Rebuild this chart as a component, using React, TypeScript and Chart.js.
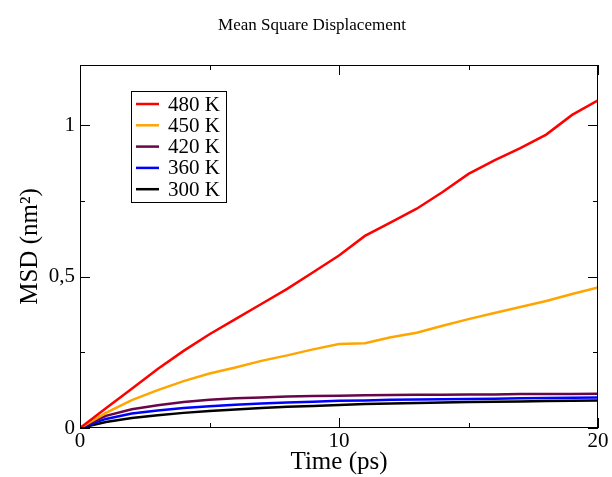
import React, { useEffect, useRef } from "react";
import { Chart, registerables } from "chart.js";

Chart.register(...registerables);

const times = [0, 1, 2, 3, 4, 5, 6, 7, 8, 9, 10, 11, 12, 13, 14, 15, 16, 17, 18, 19, 20];
const msd480 = [0, 0.065, 0.13, 0.195, 0.255, 0.31, 0.36, 0.41, 0.46, 0.515, 0.57, 0.635, 0.68, 0.725, 0.78, 0.84, 0.885, 0.925, 0.97, 1.035, 1.083];
const msd450 = [0, 0.05, 0.092, 0.125, 0.155, 0.18, 0.2, 0.222, 0.24, 0.26, 0.278, 0.28, 0.3, 0.315, 0.338, 0.36, 0.38, 0.4, 0.42, 0.443, 0.465];
const msd420 = [0, 0.04, 0.062, 0.075, 0.086, 0.093, 0.098, 0.101, 0.104, 0.106, 0.107, 0.108, 0.109, 0.11, 0.11, 0.111, 0.111, 0.112, 0.112, 0.112, 0.113];
const msd360 = [0, 0.03, 0.048, 0.058, 0.066, 0.072, 0.077, 0.081, 0.084, 0.087, 0.09, 0.091, 0.093, 0.094, 0.095, 0.096, 0.097, 0.098, 0.099, 0.1, 0.101];
const msd300 = [0, 0.02, 0.033, 0.042, 0.05, 0.056, 0.061, 0.066, 0.07, 0.073, 0.076, 0.079, 0.081, 0.083, 0.084, 0.086, 0.087, 0.088, 0.089, 0.09, 0.091];

const seriesLabels = ["480 K", "450 K", "420 K", "360 K", "300 K"];
const seriesValues = [msd480, msd450, msd420, msd360, msd300];
const seriesColors = ["#ff0000", "#ffa500", "#670748", "#0000ff", "#000000"];

const xTicks = [0, 10, 20];
const xMinorTicks = [5, 15];
const yTicks = [0, 0.5, 1];
const yMinorTicks = [0.25, 0.75];

const chartTitle = "Mean Square Displacement";

const FONT = "'Liberation Serif', 'Times New Roman', serif";

const framePlugin = {
  id: "frameTicks",
  afterDatasetsDraw(chart: any) {
    const { ctx, chartArea: a, scales } = chart;
    const xs = scales.x;
    const ys = scales.y;
    ctx.save();
    ctx.strokeStyle = "#000";
    ctx.lineWidth = 1;
    ctx.strokeRect(a.left + 0.5, a.top + 0.5, a.right - a.left - 1, a.bottom - a.top - 1);
    ctx.beginPath();
    const tickX = (v: number, len: number) => {
      const px = Math.round(xs.getPixelForValue(v)) + 0.5;
      ctx.moveTo(px, a.bottom);
      ctx.lineTo(px, a.bottom - len);
      ctx.moveTo(px, a.top);
      ctx.lineTo(px, a.top + len);
    };
    const tickY = (v: number, len: number) => {
      const py = Math.round(ys.getPixelForValue(v)) + 0.5;
      ctx.moveTo(a.left, py);
      ctx.lineTo(a.left + len, py);
      ctx.moveTo(a.right, py);
      ctx.lineTo(a.right - len, py);
    };
    xTicks.forEach((v) => tickX(v, 10));
    xMinorTicks.forEach((v) => tickX(v, 5));
    yTicks.forEach((v) => tickY(v, 10));
    yMinorTicks.forEach((v) => tickY(v, 5));
    ctx.stroke();

    // title
    ctx.fillStyle = "#000";
    ctx.font = `17px ${FONT}`;
    ctx.textAlign = "center";
    ctx.textBaseline = "alphabetic";
    ctx.fillText(chartTitle, 312, 30);

    // legend box
    const bx = 131, by = 91, bw = 95, bh = 111;
    ctx.fillStyle = "#fff";
    ctx.fillRect(bx, by, bw, bh);
    ctx.strokeRect(bx + 0.5, by + 0.5, bw, bh);
    ctx.font = `21px ${FONT}`;
    ctx.textBaseline = "middle";
    ctx.textAlign = "left";
    chart.data.datasets.forEach((ds: any, i: number) => {
      const cy = 104 + i * 21.3;
      ctx.beginPath();
      ctx.strokeStyle = ds.borderColor;
      ctx.lineWidth = 2.5;
      ctx.moveTo(136, cy);
      ctx.lineTo(159, cy);
      ctx.stroke();
      ctx.fillStyle = "#000";
      ctx.fillText(ds.label, 168, cy + 1);
    });
    ctx.restore();
  },
};

export default function App() {
  const ref = useRef<HTMLCanvasElement>(null);
  useEffect(() => {
    if (!ref.current) return;
    const chart = new Chart(ref.current, {
      type: "line",
      data: {
        datasets: seriesLabels.map((label, i) => ({
          label,
          data: times.map((t, j) => ({ x: t, y: seriesValues[i][j] })),
          borderColor: seriesColors[i],
          backgroundColor: seriesColors[i],
          borderWidth: 2.5,
          pointRadius: 0,
          tension: 0,
          fill: false,
        })),
      },
      options: {
        animation: false,
        responsive: false,
        maintainAspectRatio: false,
        layout: { padding: { left: 0, right: 14, top: 65, bottom: 0 } },
        plugins: {
          legend: { display: false },
          tooltip: { enabled: false },
          title: { display: false },
        },
        scales: {
          x: {
            type: "linear",
            min: 0,
            max: 20,
            grid: { display: false, drawTicks: false },
            border: { display: false },
            afterBuildTicks: (s: any) => {
              s.ticks = xTicks.map((v) => ({ value: v }));
            },
            afterFit: (s: any) => {
              s.height = 49;
            },
            ticks: {
              color: "#000",
              padding: 3,
              maxRotation: 0,
              font: { family: FONT, size: 21, lineHeight: 1 },
              callback: (v: any) => String(v),
            },
            title: {
              display: true,
              text: "Time (ps)",
              color: "#000",
              font: { family: FONT, size: 25, lineHeight: 1.2 },
              padding: { top: 0, bottom: 0 },
            },
          },
          y: {
            type: "linear",
            min: 0,
            max: 1.2,
            grid: { display: false, drawTicks: false },
            border: { display: false },
            afterBuildTicks: (s: any) => {
              s.ticks = yTicks.map((v) => ({ value: v }));
            },
            afterFit: (s: any) => {
              s.width = 80;
            },
            ticks: {
              color: "#000",
              padding: 5,
              font: { family: FONT, size: 21, lineHeight: 1 },
              callback: (v: any) => String(v).replace(".", ","),
            },
            title: {
              display: true,
              text: "MSD (nm²)",
              color: "#000",
              font: { family: FONT, size: 25, lineHeight: 1.2 },
              padding: { top: 15, bottom: 0 },
            },
          },
        },
      },
      plugins: [framePlugin],
    });
    return () => chart.destroy();
  }, []);
  return (
    <div style={{ position: "absolute", left: 0, top: 0, width: 612, height: 477, background: "#fff" }}>
      <canvas ref={ref} width={612} height={477} style={{ width: 612, height: 477 }} />
    </div>
  );
}
